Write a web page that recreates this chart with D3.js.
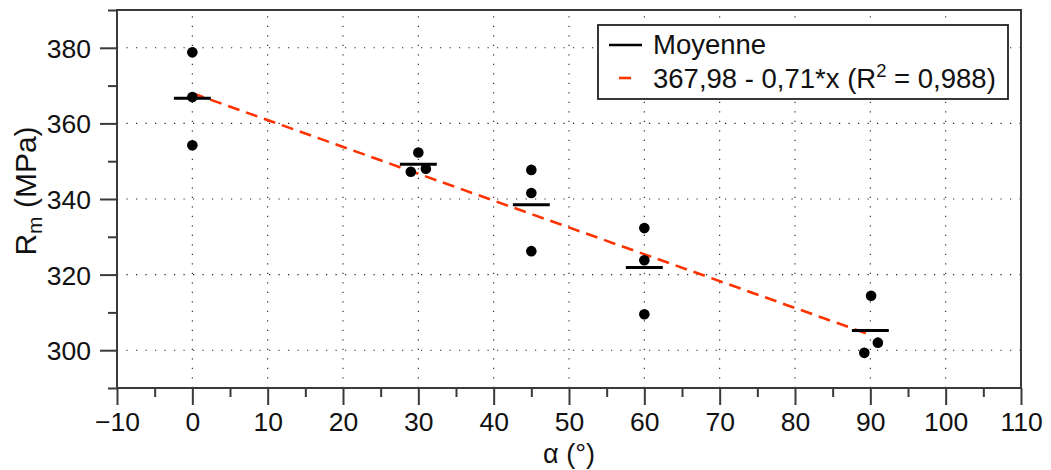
<!DOCTYPE html>
<html><head><meta charset="utf-8">
<script src="https://cdn.jsdelivr.net/npm/d3@7"></script>
<style>
body{margin:0;background:#fff;}
svg{font-family:"Liberation Sans",Arial,Helvetica,sans-serif;}
</style></head>
<body><svg id="c" width="1051" height="470"></svg>
<script>
// Data
const anglesX = [0, 0, 0, 29, 30, 31, 45, 45, 45, 60, 60, 60, 89.2, 90.1, 91];
const rmValues = [378.8, 367.0, 354.2, 347.2, 352.3, 348.0, 347.7, 341.6, 326.2, 332.3, 323.8, 309.5, 299.3, 314.4, 302.0];
const meanAngles = [0, 30, 45, 60, 90];
const meanValues = [366.67, 349.17, 338.5, 321.87, 305.23];
const fitIntercept = 367.98, fitSlope = -0.71;
const fitRange = [0, 90];
const xTicks = [-10,0,10,20,30,40,50,60,70,80,90,100,110];
const yTicks = [300,320,340,360,380];
const legendLabels = ["Moyenne", "367,98 - 0,71*x (R", "2", " = 0,988)"];

const svg = d3.select("#c");
const L=117, R=1021, T=10, B=388;
const x = d3.scaleLinear().domain([-10,110]).range([L,R]);
const y = d3.scaleLinear().domain([290,390]).range([B,T]);
const axisCol = "#3a3a3a";
const FS = 26.5;

// grid
const g = svg.append("g");
g.selectAll(".vg").data(xTicks.filter(d=>d>-10&&d<110)).enter().append("line")
 .attr("x1",d=>x(d)).attr("x2",d=>x(d)).attr("y1",B).attr("y2",T)
 .attr("stroke","#222").attr("stroke-width",1.1).attr("stroke-dasharray","1.2 8.3");
g.selectAll(".hg").data(yTicks).enter().append("line")
 .attr("y1",d=>y(d)).attr("y2",d=>y(d)).attr("x1",L).attr("x2",R)
 .attr("stroke","#222").attr("stroke-width",1.1).attr("stroke-dasharray","1.2 8.3");

// axes
const xMinor = d3.range(-5,110,10);
const yMinor = [290,310,330,350,370,390];
const xa = svg.append("g").attr("transform",`translate(0,${B})`)
 .call(d3.axisBottom(x).tickValues(xTicks).tickSize(17).tickPadding(7).tickFormat(d=>d<0?"\u2212"+Math.abs(d):d));
const xm = svg.append("g").attr("transform",`translate(0,${B})`)
 .call(d3.axisBottom(x).tickValues(xMinor).tickSize(9).tickFormat(""));
const ya = svg.append("g").attr("transform",`translate(${L},0)`)
 .call(d3.axisLeft(y).tickValues(yTicks).tickSize(17).tickPadding(9));
const ym = svg.append("g").attr("transform",`translate(${L},0)`)
 .call(d3.axisLeft(y).tickValues(yMinor).tickSize(9).tickFormat(""));
[xa,xm,ya,ym].forEach(a=>{
  a.select(".domain").remove();
  a.selectAll("line").attr("stroke",axisCol).attr("stroke-width",2);
  a.selectAll("text").attr("font-size",FS).attr("fill","#111").attr("font-family","Liberation Sans, Arial, sans-serif");
});
ya.selectAll("text").attr("dy","0.36em");
xa.selectAll("text").attr("dy","0.72em");
// frame
svg.append("rect").attr("x",L).attr("y",T).attr("width",R-L).attr("height",B-T)
 .attr("fill","none").attr("stroke",axisCol).attr("stroke-width",2);

// fit line
const fit = d3.line().x(d=>x(d)).y(d=>y(fitIntercept+fitSlope*d));
svg.append("path").attr("d",fit(fitRange)).attr("fill","none")
 .attr("stroke","#ff3300").attr("stroke-width",2.6).attr("stroke-dasharray","12 7");

// means
svg.selectAll(".mean").data(meanAngles).enter().append("line")
 .attr("x1",(d)=>x(d-2.45)).attr("x2",d=>x(d+2.45))
 .attr("y1",(d,i)=>y(meanValues[i])).attr("y2",(d,i)=>y(meanValues[i]))
 .attr("stroke","#000").attr("stroke-width",3);

// points
svg.selectAll(".pt").data(rmValues).enter().append("circle")
 .attr("cx",(d,i)=>x(anglesX[i])).attr("cy",d=>y(d)).attr("r",5.3).attr("fill","#000");

// legend
const LFS = 27.5;
const lg = svg.append("g");
lg.append("rect").attr("x",598).attr("y",25).attr("width",410).attr("height",74)
 .attr("fill","#fff").attr("stroke","#222").attr("stroke-width",1.8);
lg.append("line").attr("x1",609).attr("x2",642).attr("y1",45).attr("y2",45).attr("stroke","#000").attr("stroke-width",2.5);
lg.append("line").attr("x1",619).attr("x2",631).attr("y1",78).attr("y2",78).attr("stroke","#ff3300").attr("stroke-width",2.6);
lg.append("text").attr("x",653).attr("y",54).attr("font-size",LFS).attr("fill","#111").text(legendLabels[0]);
const t2 = lg.append("text").attr("x",653).attr("y",88).attr("font-size",LFS).attr("fill","#111");
t2.append("tspan").text(legendLabels[1]);
t2.append("tspan").attr("font-size",18.5).attr("dy",-11).text(legendLabels[2]);
t2.append("tspan").attr("dy",11).text(legendLabels[3]);

// axis titles
svg.append("text").attr("x",569).attr("y",463).attr("text-anchor","middle")
 .attr("font-size",27).attr("fill","#111").text("α (°)");
const yl = svg.append("text").attr("transform",`translate(36,${191}) rotate(-90)`)
 .attr("text-anchor","middle").attr("font-size",30).attr("fill","#111");
yl.append("tspan").text("R");
yl.append("tspan").attr("font-size",21).attr("dy",6).text("m");
yl.append("tspan").attr("dy",-6).text(" (MPa)");
</script></body></html>
